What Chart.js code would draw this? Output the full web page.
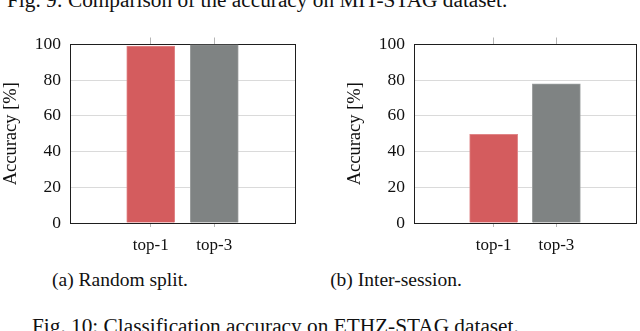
<!DOCTYPE html>
<html>
<head>
<meta charset="utf-8">
<script src="https://cdn.jsdelivr.net/npm/chart.js@4.4.0/dist/chart.umd.min.js"></script>
<style>
  body { margin: 0; width: 640px; height: 331px; background: #fff; overflow: hidden; position: relative; font-family: "Liberation Serif", serif; }
  .txt { position: absolute; font-size: 19.5px; line-height: 1; color: #111; white-space: nowrap; }
  .fig { font-size: 21.3px; }
  .cap { width: 240px; text-align: center; }
  .box { position: absolute; }
</style>
</head>
<body>
<div class="txt fig" style="left:7px; top:-10px;">Fig. 9: Comparison of the accuracy on MIT-STAG dataset.</div>

<div class="box" style="left:0px; top:25px; width:300px; height:240px;"><canvas id="chartA"></canvas></div>
<div class="box" style="left:344px; top:25px; width:296px; height:240px;"><canvas id="chartB"></canvas></div>

<div class="txt cap" style="left:0px; top:270px;">(a) Random split.</div>
<div class="txt cap" style="left:276px; top:270px;">(b) Inter-session.</div>

<div class="txt fig" style="left:32px; top:316px;">Fig. 10: Classification accuracy on ETHZ-STAG dataset.</div>

<script>
// data
const categories = ['top-1', 'top-3']
const randomSplit = [99.1, 99.9]     // (a)
const interSession = [49.7, 78.0]    // (b)
const yTicks = [0, 20, 40, 60, 80, 100]

const barColors = ['#d45c5e', '#7f8383']
const barBorders = ['#e08587', '#9b9e9e']
const serif = 'Liberation Serif'
const dark = '#1e1e1e'

function catTicks(scale) {
    scale.ticks = categories.map((c, i) => ({ value: i + 1 }))
}

function makeChart(id, values, rightWidth) {
    const ctx = document.getElementById(id).getContext('2d')
    new Chart(ctx, {
        type: 'bar',
        data: {
            datasets: [{
                data: categories.map((c, i) => ({ x: i + 1, y: values[i] })),
                backgroundColor: barColors,
                borderColor: barBorders,
                borderWidth: 1,
                barThickness: 48,
            }]
        },
        options: {
            responsive: true,
            maintainAspectRatio: false,
            animation: false,
            layout: { padding: 0 },
            plugins: { legend: { display: false }, tooltip: { enabled: false } },
            scales: {
                x: {
                    type: 'linear', position: 'bottom', min: -0.27, max: 3.27, offset: false,
                    afterBuildTicks: catTicks,
                    afterFit: s => { s.height = 42 },
                    grid: { drawOnChartArea: false, offset: false, color: '#b5b5b5', tickLength: 4 },
                    border: { color: dark, width: 1 },
                    ticks: {
                        padding: 8, color: '#111', maxRotation: 0,
                        font: { family: serif, size: 17 },
                        callback: v => categories[v - 1] || ''
                    }
                },
                x2: {
                    type: 'linear', position: 'top', min: -0.27, max: 3.27, offset: false,
                    afterBuildTicks: catTicks,
                    afterFit: s => { s.height = 15 },
                    grid: { drawOnChartArea: false, offset: false, color: '#b5b5b5', tickLength: 7 },
                    border: { color: dark, width: 1 },
                    ticks: { display: false }
                },
                y: {
                    min: 0, max: 100,
                    afterBuildTicks: s => { s.ticks = yTicks.map(v => ({ value: v })) },
                    afterFit: s => { s.width = 70 },
                    grid: { color: '#dadada', drawTicks: false },
                    border: { color: dark, width: 1 },
                    ticks: { padding: 9, color: '#111', font: { family: serif, size: 17.5 } },
                    title: {
                        display: true, text: 'Accuracy [%]', color: '#111',
                        padding: { top: 0, bottom: 0 },
                        font: { family: serif, size: 18.5 }
                    }
                },
                y2: {
                    position: 'right', min: 0, max: 100,
                    afterFit: s => { s.width = rightWidth },
                    grid: { display: false },
                    border: { color: dark, width: 1 },
                    ticks: { display: false }
                }
            }
        }
    })
}

makeChart('chartA', randomSplit, 5)
makeChart('chartB', interSession, 4)
</script>
</body>
</html>
